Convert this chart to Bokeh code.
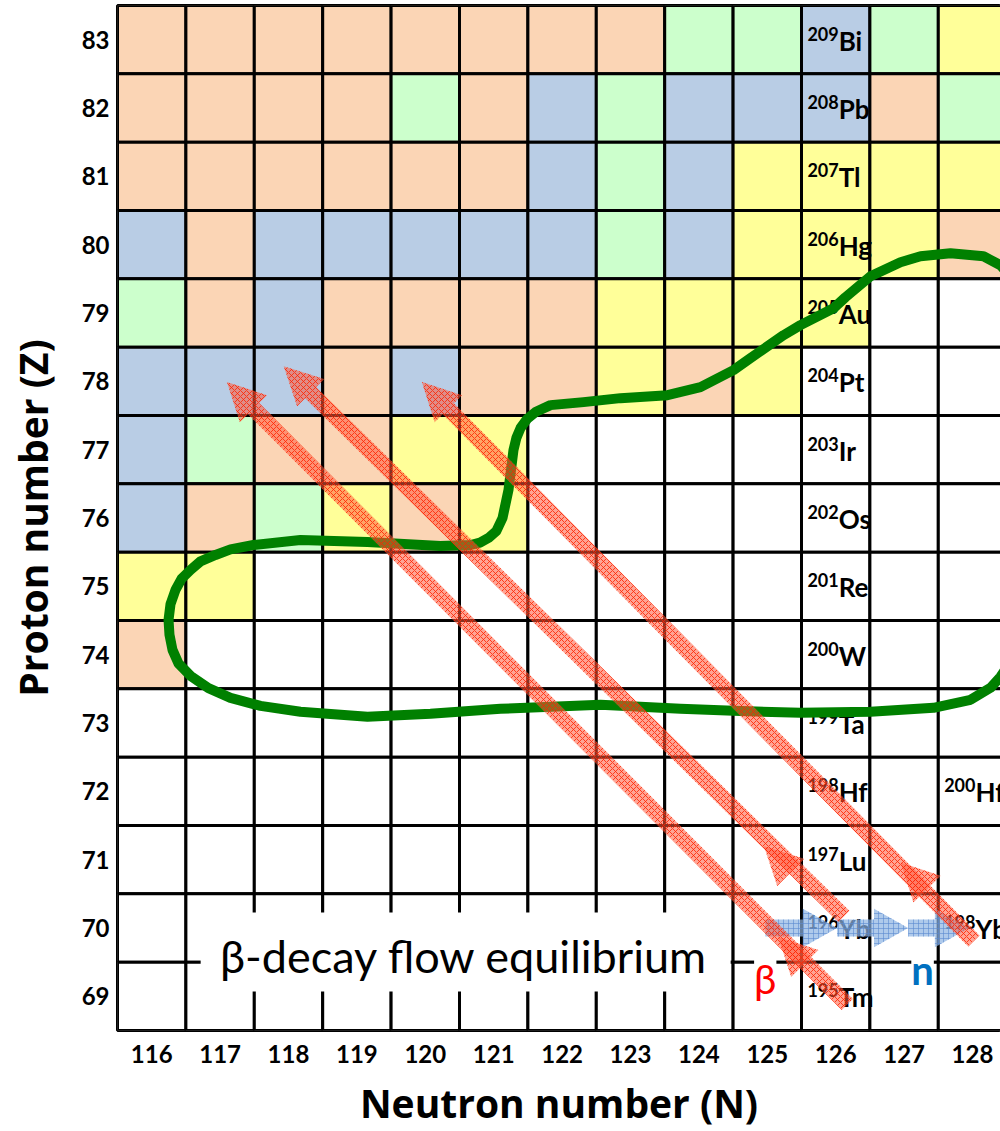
import numpy as np
from bokeh.plotting import figure
from bokeh.models import Range1d, FixedTicker, Label, ColumnDataSource
from bokeh.core.properties import value
from bokeh.embed import file_html
from bokeh.resources import INLINE

# ---- grid of nuclides -------------------------------------------------------
neutrons = list(range(116, 129))          # N = 116 ... 128
protons = list(range(83, 68, -1))         # Z = 83 ... 69

# one string per proton row (Z = 83 down to 69), one letter per neutron column
cell_classes = [
    "PPPPPPPPGGBGY",  # 83
    "PPPPGPBGBBBPG",  # 82
    "PPPPPPBGBYYYY",  # 81
    "BPBBBBBGBYYYP",  # 80
    "GPBPPPPYYYYWW",  # 79
    "BBBPBPPYPYWWW",  # 78
    "BGPPYYWWWWWWW",  # 77
    "BPGYPYWWWWWWW",  # 76
    "YYWWWWWWWWWWW",  # 75
    "PWWWWWWWWWWWW",  # 74
    "WWWWWWWWWWWWW",  # 73
    "WWWWWWWWWWWWW",  # 72
    "WWWWWWWWWWWWW",  # 71
    "WWWWWWWWWWWWW",  # 70
    "WWWWWWWWWWWWW",  # 69
]
class_colors = {"P": "#FBD5B5", "B": "#B9CDE5", "G": "#CCFFCC",
                "Y": "#FFFF99", "W": "#FFFFFF"}

# ---- labelled nuclides --------------------------------------------------------
label_N = [126] * 15 + [128, 128]
label_Z = [83, 82, 81, 80, 79, 78, 77, 76, 75, 74, 73, 72, 71, 70, 69, 72, 70]
label_A = [209, 208, 207, 206, 205, 204, 203, 202, 201, 200, 199, 198, 197,
           196, 195, 200, 198]
label_sym = ["Bi", "Pb", "Tl", "Hg", "Au", "Pt", "Ir", "Os", "Re", "W", "Ta",
             "Hf", "Lu", "Yb", "Tm", "Hf", "Yb"]

# ---- beta-decay chains (start, end, intermediate head) -----------------------
beta_from_N = [126.17, 126.12, 128.02]
beta_from_Z = [68.88, 70.17, 69.81]
beta_to_N = [117.10, 117.93, 119.95]
beta_to_Z = [77.99, 78.22, 77.99]
beta_mid_N = [125.16, 124.95, 126.95]
beta_mid_Z = [69.87, 71.20, 70.96]

# ---- neutron captures along Z = 70 --------------------------------------------
ncap_from_N = [124.97, 126.02, 127.06]
ncap_to_N = [126.02, 127.06, 127.95]
ncap_Z = [70.0, 70.0, 70.0]

# ---- equilibrium region boundary ----------------------------------------------
loop_N = [128.556, 128.409, 128.161, 127.678, 127.240, 126.947, 126.509, 126.143,
          125.968, 125.485, 125.237, 124.754, 124.506, 124.023, 123.541, 122.854,
          122.313, 121.830, 121.611, 121.494, 121.392, 121.331, 121.289, 121.216,
          121.129, 121.040, 120.924, 120.800, 120.661, 120.222, 119.155, 118.175,
          117.488, 117.152, 116.933, 116.713, 116.567, 116.436, 116.348, 116.275,
          116.246, 116.260, 116.304, 116.392, 116.567, 116.830, 117.152, 117.590,
          118.175, 119.155, 120.076, 121.099, 122.561, 123.731, 124.506, 125.485,
          126.509, 127.430, 127.971, 128.263, 128.409, 128.556]
loop_Z = [79.538, 79.699, 79.830, 79.874, 79.830, 79.743, 79.538, 79.231,
          79.070, 78.822, 78.675, 78.339, 78.164, 77.915, 77.798, 77.754,
          77.696, 77.652, 77.550, 77.455, 77.316, 77.170, 76.994, 76.409,
          76.000, 75.810, 75.708, 75.640, 75.605, 75.591, 75.649, 75.678,
          75.605, 75.540, 75.459, 75.365, 75.240, 75.110, 74.947, 74.740,
          74.509, 74.290, 74.070, 73.870, 73.690, 73.510, 73.368, 73.250,
          73.164, 73.091, 73.135, 73.208, 73.266, 73.208, 73.178, 73.149,
          73.164, 73.222, 73.339, 73.515, 73.675, 73.895]

FONT = value("Lato")

p = figure(width=1000, height=1131, output_backend="svg", toolbar_location=None,
           x_range=Range1d(115.5, 115.5 + 883 / 68.4), y_range=Range1d(68.5, 83.5),
           min_border_left=117, min_border_right=0, min_border_top=5,
           min_border_bottom=100)
p.background_fill_color = "white"
p.border_fill_color = "white"
p.outline_line_color = "black"
p.outline_line_width = 3
p.xgrid.visible = False
p.ygrid.visible = False

# cells
cx, cy, cc = [], [], []
for z, row in zip(protons, cell_classes):
    for n, code in zip(neutrons, row):
        cx.append(n)
        cy.append(z)
        cc.append(class_colors[code])
p.rect(x=cx, y=cy, width=1, height=1, fill_color=cc, line_color="black",
       line_width=3)

# nuclide names: mass number as superscript, element symbol after it
lab = ColumnDataSource(dict(x=label_N, y=label_Z,
                            mass=[str(a) for a in label_A], sym=label_sym))
p.text(x="x", y="y", text="mass", source=lab, text_align="right",
       text_baseline="alphabetic", x_offset=3, y_offset=-6, text_font=FONT,
       text_font_style="bold", text_font_size="18px", text_color="black")
p.text(x="x", y="y", text="sym", source=lab, text_align="left",
       text_baseline="alphabetic", x_offset=3, y_offset=1, text_font=FONT,
       text_font_style="bold", text_font_size="26px", text_color="black")

# caption box
p.rect(x=[120.59], y=[69.65], width=530, height=79, width_units="screen",
       height_units="screen", fill_color="white", line_color=None)
p.text(x=[120.566], y=[69.363], text=["β-decay flow equilibrium"],
       text_align="center", text_baseline="alphabetic", y_offset=-16,
       text_font=FONT, text_font_size="45px", text_color="black")

# equilibrium boundary
p.line(loop_N, loop_Z, line_color="#008000", line_width=10, line_join="round",
       line_cap="round")


def arrow_outline(x0, y0, x1, y1, shaft, head_w, head_l):
    tail = np.array([x0, y0])
    tip = np.array([x1, y1])
    u = (tip - tail) / np.linalg.norm(tip - tail)
    nrm = np.array([-u[1], u[0]])
    base = tip - u * head_l
    pts = [tail + nrm * shaft, base + nrm * shaft, base + nrm * head_w, tip,
           base - nrm * head_w, base - nrm * shaft, tail - nrm * shaft]
    return [q[0] for q in pts], [q[1] for q in pts]


def head_outline(x1, y1, ux, uy, head_w, head_l):
    tip = np.array([x1, y1])
    u = np.array([ux, uy]) / np.hypot(ux, uy)
    nrm = np.array([-u[1], u[0]])
    base = tip - u * head_l
    pts = [base + nrm * head_w, tip, base - nrm * head_w]
    return [q[0] for q in pts], [q[1] for q in pts]


# neutron-capture arrows
bxs, bys = [], []
for a, b, z in zip(ncap_from_N, ncap_to_N, ncap_Z):
    xs, ys = arrow_outline(a, z, b, z, 0.125, 0.28, 0.5)
    bxs.append(xs)
    bys.append(ys)
p.patches(bxs, bys, fill_color="#8DB3E2", fill_alpha=0.7, line_color=None,
          hatch_pattern="cross", hatch_color="#5B8BD0", hatch_alpha=0.6,
          hatch_scale=5, hatch_weight=1, level="overlay")

# beta-decay arrows
rxs, rys = [], []
for x0, y0, x1, y1, xm, ym in zip(beta_from_N, beta_from_Z, beta_to_N, beta_to_Z,
                                  beta_mid_N, beta_mid_Z):
    xs, ys = arrow_outline(x0, y0, x1, y1, 0.115, 0.28, 0.55)
    rxs.append(xs)
    rys.append(ys)
    hx, hy = head_outline(xm, ym, x1 - x0, y1 - y0, 0.28, 0.55)
    rxs.append(hx)
    rys.append(hy)
p.patches(rxs, rys, fill_color="#FF5A3C", fill_alpha=0.55, line_color=None,
          hatch_pattern="diagonal_cross", hatch_color="#FF2200", hatch_alpha=0.8,
          hatch_scale=6, hatch_weight=1, level="overlay")

# process labels
p.add_layout(Label(x=124.97, y=69.26, text="β", text_align="center",
                   text_baseline="alphabetic", text_font="Lato",
                   text_font_size="40px", text_color="#FF0000",
                   background_fill_color="white"))
p.add_layout(Label(x=127.27, y=69.39, text="n", text_align="center",
                   text_baseline="alphabetic", text_font="Lato",
                   text_font_style="bold", text_font_size="40px",
                   text_color="#0070C0", background_fill_color="white"))

# axes
for ax in (p.xaxis, p.yaxis):
    ax.axis_line_color = None
    ax.major_tick_line_color = None
    ax.minor_tick_line_color = None
    ax.major_tick_out = 0
    ax.major_tick_in = 0
    ax.major_label_text_font = "Lato"
    ax.major_label_text_font_style = "bold"
    ax.major_label_text_font_size = "24px"
    ax.major_label_text_color = "black"
    ax.axis_label_text_font = "Open Sans"
    ax.axis_label_text_font_style = "bold"
    ax.axis_label_text_font_size = "39px"
    ax.axis_label_text_color = "black"

p.xaxis.ticker = FixedTicker(ticks=neutrons)
p.yaxis.ticker = FixedTicker(ticks=protons)
p.xaxis.axis_label = "Neutron number (N)"
p.yaxis.axis_label = "Proton number (Z)"
p.xaxis.major_label_standoff = 14
p.xaxis.axis_label_standoff = 10
p.yaxis.major_label_standoff = 8
p.yaxis.axis_label_standoff = 20

open("out.html", "w").write(file_html(p, INLINE))
